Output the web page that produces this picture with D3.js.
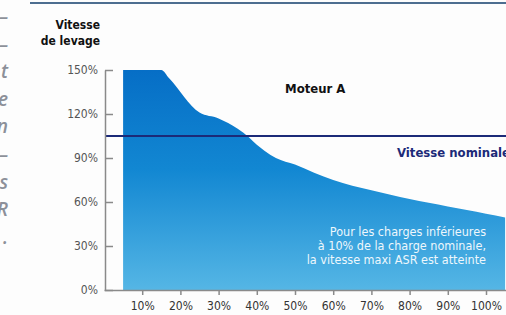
<!DOCTYPE html>
<html>
<head>
<meta charset="utf-8">
<script src="https://cdn.jsdelivr.net/npm/d3@7"></script>
<style>
  body { margin: 0; background: #fdfdfd; }
  svg { display: block; }
</style>
</head>
<body>
<svg id="chart" width="506" height="315"></svg>
<script>
// charge (% of nominal load) -> vitesse de levage (%)
var loads  = [5, 15, 17, 25, 30, 35, 38, 40, 42, 45, 50, 55, 60, 65, 70, 75, 80, 85, 90, 95, 100, 105];
var speeds = [150, 150, 144.5, 121, 117, 110, 104, 99, 95, 90, 85.5, 80, 75, 71, 68, 65, 62, 59.5, 57, 54.5, 52, 49.5];
var nominal = 105;
var yTicks = [0, 30, 60, 90, 120, 150];
var xTicks = [10, 20, 30, 40, 50, 60, 70, 80, 90, 100];
var noteLines = ["Pour les charges inférieures", "à 10% de la charge nominale,", "la vitesse maxi ASR est atteinte"];
var marginBits = ["–", "–", "t", "e", "n", "–", "s", "R", "."];

var svg = d3.select("#chart");
var cond = "DejaVu Sans Condensed, sans-serif";

var x = d3.scaleLinear().domain([0, 100]).range([104, 486]);
var y = d3.scaleLinear().domain([0, 150]).range([290, 70]);

// gradient for the area
var grad = svg.append("defs").append("linearGradient")
    .attr("id", "fillGrad").attr("x1", 0).attr("y1", 0).attr("x2", 0).attr("y2", 1);
grad.append("stop").attr("offset", "0%").attr("stop-color", "#066ec6");
grad.append("stop").attr("offset", "45%").attr("stop-color", "#1287d2");
grad.append("stop").attr("offset", "100%").attr("stop-color", "#55b6e5");

// cropped column of text on the left
svg.append("g").selectAll("text")
    .data(marginBits).enter().append("text")
    .attr("x", 8)
    .attr("y", function(d, i) { return 23 + i * 27.6; })
    .attr("text-anchor", "end")
    .attr("font-family", "Open Sans, sans-serif")
    .attr("font-style", "italic")
    .attr("font-weight", "600")
    .attr("font-size", 19)
    .attr("fill", "#8c9099")
    .text(function(d) { return d; });

// top rule
svg.append("line")
    .attr("x1", 30).attr("x2", 506).attr("y1", 3).attr("y2", 3)
    .attr("stroke", "#4d6e90").attr("stroke-width", 2);

// area
var area = d3.area()
    .x(function(d, i) { return x(loads[i]); })
    .y0(y(0))
    .y1(function(d) { return y(d); })
    .curve(d3.curveMonotoneX);

svg.append("path")
    .datum(speeds)
    .attr("d", area)
    .attr("fill", "url(#fillGrad)");

// nominal speed line
svg.append("line")
    .attr("x1", 106).attr("x2", 506)
    .attr("y1", y(nominal)).attr("y2", y(nominal))
    .attr("stroke", "#1c2a78").attr("stroke-width", 2);

// y axis
var yAxis = svg.append("g")
    .attr("transform", "translate(105,0)")
    .call(d3.axisLeft(y).tickValues(yTicks).tickSizeInner(-8).tickSizeOuter(0)
      .tickPadding(7).tickFormat(function(d) { return d + "%"; }));
yAxis.select(".domain").attr("stroke", "#8a8a8a").attr("stroke-width", 1.5);
yAxis.selectAll(".tick line").attr("stroke", "#8a8a8a").attr("stroke-width", 1.5);
yAxis.selectAll(".tick text")
    .attr("font-size", 12).attr("fill", "#555")
    .attr("font-family", cond);

// x axis
var xAxis = svg.append("g")
    .attr("transform", "translate(0,290)")
    .call(d3.axisBottom(x).tickValues(xTicks).tickSizeInner(5).tickSizeOuter(0)
      .tickPadding(6).tickFormat(function(d) { return d + "%"; }));
xAxis.select(".domain").attr("d", "M104.5,0.5H506").attr("stroke", "#8a8a8a").attr("stroke-width", 1.5);
xAxis.selectAll(".tick line").attr("stroke", "#8a8a8a").attr("stroke-width", 1.5);
xAxis.selectAll(".tick text")
    .attr("font-size", 12).attr("fill", "#333")
    .attr("font-family", cond);

// axis title
svg.append("text")
    .attr("text-anchor", "end")
    .attr("font-family", cond)
    .attr("font-weight", "bold").attr("font-size", 12).attr("fill", "#111")
    .selectAll("tspan").data(["Vitesse", "de levage"]).enter().append("tspan")
    .attr("x", 100)
    .attr("y", function(d, i) { return 29 + i * 16; })
    .text(function(d) { return d; });

// labels
svg.append("text")
    .attr("x", 285).attr("y", 93)
    .attr("font-family", cond)
    .attr("font-weight", "bold").attr("font-size", 13).attr("fill", "#111")
    .text("Moteur A");

svg.append("text")
    .attr("x", 397).attr("y", 157)
    .attr("font-family", cond)
    .attr("font-weight", "bold").attr("font-size", 13).attr("fill", "#1c2a78")
    .text("Vitesse nominale");

svg.append("g").selectAll("text")
    .data(noteLines).enter().append("text")
    .attr("x", 486)
    .attr("y", function(d, i) { return 236 + i * 14; })
    .attr("text-anchor", "end")
    .attr("font-family", cond)
    .attr("font-size", 12.5).attr("fill", "#eef7fc")
    .text(function(d) { return d; });
</script>
</body>
</html>
